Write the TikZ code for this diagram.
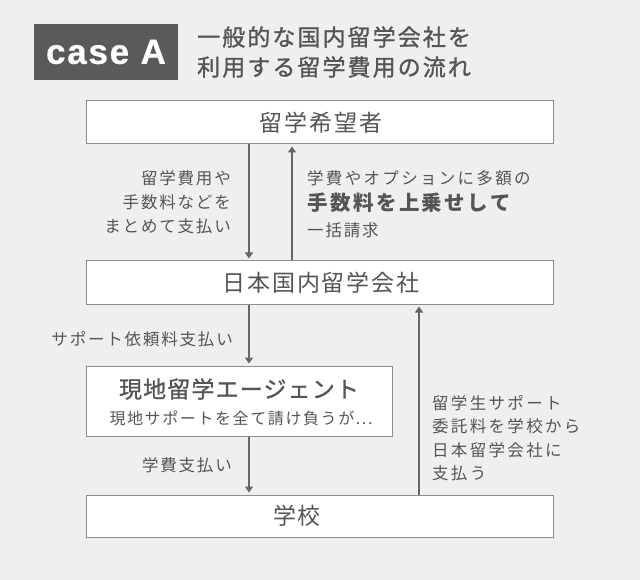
\documentclass[tikz,border=0pt]{standalone}
\usepackage{fontspec}
\setmainfont{Noto Sans CJK JP}
\newfontfamily\jp{Noto Sans CJK JP}
\newfontfamily\latinbold{Liberation Sans}
\newcommand{\trk}[1]{\addfontfeatures{LetterSpace=#1}}
\definecolor{bg}{HTML}{EFEFEF}
\definecolor{txt}{HTML}{555555}
\definecolor{boxline}{HTML}{8C8C8C}
\definecolor{arrowc}{HTML}{666666}
\definecolor{tagfill}{HTML}{5A5A5A}
\usetikzlibrary{arrows.meta}
\tikzset{
  flowbox/.style={draw=boxline, fill=white, line width=1pt, inner sep=0pt, text=txt},
  boxtext/.style={font=\jp\fontsize{23}{25}\selectfont\trk{8}},
  lbl/.style={text=txt, inner sep=0pt, font=\jp\fontsize{16.5}{24}\selectfont\trk{11}},
  arr/.style={draw=arrowc, line width=1.1pt, -{Triangle[length=6pt,width=8pt]}, shorten >=2pt},
}
\begin{document}
\begin{tikzpicture}[x=1pt,y=-1pt]
\useasboundingbox (0,0) rectangle (640,580);
\fill[bg] (0,0) rectangle (640,580);
% header
\node[fill=tagfill, minimum width=144pt, minimum height=56pt, inner sep=0pt,
      text=white, font=\latinbold\bfseries\fontsize{35}{35}\selectfont\addfontfeatures{LetterSpace=5,FakeBold=0.6}] (tag) at (106,52) {case A};
\node[anchor=west, text=txt, inner sep=0pt, align=left,
      font=\jp\fontsize{23}{30}\selectfont\addfontfeatures{LetterSpace=9,FakeBold=1.2}] (title) at (197,52)
      {一般的な国内留学会社を\\利用する留学費用の流れ};
% boxes
\node[flowbox, minimum width=467pt, minimum height=43pt] (b1) at (319.5,122.5) {};
\node[boxtext, text=txt] (t1) at (321,123) {留学希望者};
\node[flowbox, minimum width=467pt, minimum height=43pt] (b2) at (319.5,282.5) {};
\node[boxtext, text=txt] (t2) at (321,283) {日本国内留学会社};
\node[flowbox, minimum width=306pt, minimum height=70pt] (b3) at (239,401) {};
\node[text=txt, inner sep=0pt, font=\jp\fontsize{23}{25}\selectfont\addfontfeatures{LetterSpace=5,FakeBold=1}] (t3a) at (239,389) {現地留学エージェント};
\node[text=txt, inner sep=0pt, font=\jp\fontsize{16}{20}\selectfont\trk{10}] (t3b) at (241,418) {現地サポートを全て請け負うが...};
\node[flowbox, minimum width=467pt, minimum height=42pt] (b4) at (319.5,516) {};
\node[boxtext, text=txt] (t4) at (297,516) {学校};
% connector positions
\coordinate (xa) at (249,0);
\coordinate (xb) at (292,0);
\coordinate (xc) at (419,0);
% arrows
\draw[arr] (b1.south -| xa) -- (b2.north -| xa);
\draw[arr] (b2.north -| xb) -- (b1.south -| xb);
\draw[arr] (b2.south -| xa) -- (b3.north -| xa);
\draw[arr] (b3.south -| xa) -- (b4.north -| xa);
\draw[arr] (b4.north -| xc) -- (b2.south -| xc);
% labels
\node[lbl, anchor=east, align=right] (l1) at (231,202) {留学費用や\\手数料などを\\まとめて支払い};
\node[lbl, anchor=west, font=\jp\fontsize{16.5}{24}\selectfont\trk{14}] (r1) at (307,178) {学費やオプションに多額の};
\node[anchor=west, text=txt, inner sep=0pt, font=\jp\bfseries\fontsize{20.5}{24}\selectfont\trk{12}] (r2) at (307,203) {手数料を上乗せして};
\node[lbl, anchor=west] (r3) at (307,230) {一括請求};
\node[lbl, anchor=east] (l2) at (233,339) {サポート依頼料支払い};
\node[lbl, anchor=east] (l3) at (232,465) {学費支払い};
\node[lbl, anchor=west, align=left, font=\jp\fontsize{16.5}{23.4}\selectfont\trk{14}] (l4) at (432,438)
  {留学生サポート\\委託料を学校から\\日本留学会社に\\支払う};
\end{tikzpicture}
\end{document}
